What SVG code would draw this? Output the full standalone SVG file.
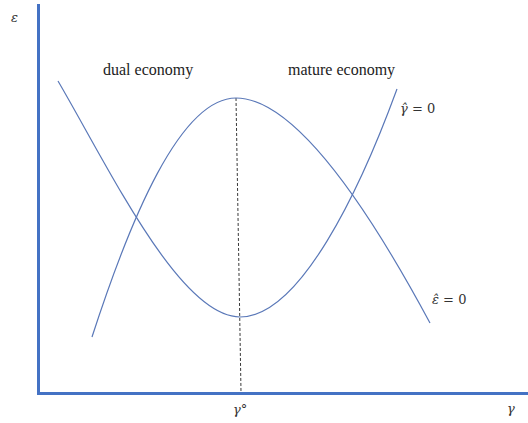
<svg xmlns="http://www.w3.org/2000/svg" width="528" height="423" viewBox="0 0 528 423">
<style>
.axis{stroke:#4472c4;stroke-width:3;fill:none}
.curve{stroke:#5a78b8;stroke-width:1.2;fill:none}
.guide{stroke:#222;stroke-width:0.9;stroke-dasharray:3,2;fill:none}
text{font-family:"Liberation Serif","DejaVu Serif",serif;fill:#222}
.lbl{font-size:16px}
.var{font-family:"DejaVu Serif","Liberation Serif",serif;font-style:italic;font-size:13px;fill:#333}
.up{font-style:normal}
</style>
<rect width="528" height="423" fill="#fff"/>
<g id="axes">
<path class="axis" d="M38.5,4 V393.5 H528"/>
</g>
<g id="connectors">
<path id="guide" class="guide" d="M236,98 L241,392"/>
<path id="curve-gamma" class="curve" d="M58,81 C110,170 180,317 240,317 C300,317 360,190 397,89"/>
<path id="curve-eps" class="curve" d="M92,337 C130,220 180,98 236,98 C300,98 380,230 430,323"/>
</g>
<g id="label-dual"><text class="lbl" x="103" y="75">dual economy</text></g>
<g id="label-mature"><text class="lbl" x="288" y="75">mature economy</text></g>
<g id="label-gamma0"><text class="var" x="400" y="113">γ̂ <tspan class="up">= 0</tspan></text></g>
<g id="label-eps0"><text class="var" x="432" y="304">ε̂ <tspan class="up">= 0</tspan></text></g>
<g id="label-epsaxis"><text class="var" x="11" y="22" font-size="11">ε</text></g>
<g id="label-gammaaxis"><text class="var" x="507" y="413">γ</text></g>
<g id="label-gammastar"><text class="var" x="233" y="414">γ°</text></g>
</svg>
